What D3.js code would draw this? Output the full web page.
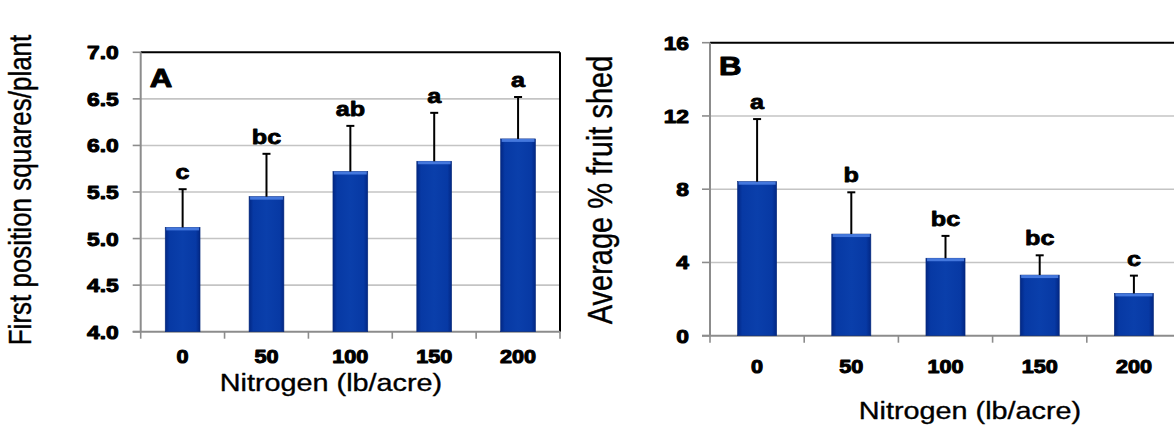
<!DOCTYPE html>
<html><head><meta charset="utf-8">
<script src="https://cdn.jsdelivr.net/npm/d3@7"></script>
<style>body{margin:0;background:#fff;overflow:hidden} text{font-family:Arial,"Liberation Sans",sans-serif;fill:#000}</style>
</head><body><svg id="c" width="1174" height="427"></svg>
<script>
const categories = ["0", "50", "100", "150", "200"];
const squaresMean = [5.12, 5.45, 5.72, 5.83, 6.07];
const squaresErr = [0.41, 0.46, 0.49, 0.52, 0.45];
const squaresLetters = ["c", "bc", "ab", "a", "a"];
const squaresTicks = [4.0, 4.5, 5.0, 5.5, 6.0, 6.5, 7.0];
const shedMean = [8.41, 5.55, 4.23, 3.31, 2.31];
const shedErr = [3.42, 2.28, 1.22, 1.08, 0.97];
const shedLetters = ["a", "b", "bc", "bc", "c"];
const shedTicks = [0, 4, 8, 12, 16];

const svg = d3.select("#c");
const defs = svg.append("defs");
const grad = defs.append("linearGradient").attr("id", "barg").attr("x1", "0").attr("x2", "1").attr("y1", "0").attr("y2", "0");
[["0%", "#022784"], ["12%", "#0739a4"], ["50%", "#0a3fab"], ["88%", "#0739a4"], ["100%", "#022784"]]
  .forEach(([o, c]) => grad.append("stop").attr("offset", o).attr("stop-color", c));

const SX = 1.2;
function txt(g, x, y, s, size, weight, anchor, rot, heavy) {
  const t = g.append("text")
    .attr("transform", `translate(${x},${y}) scale(${SX},1)` + (rot ? " rotate(-90)" : ""))
    .attr("text-anchor", anchor)
    .style("font-size", size + "px")
    .style("font-weight", weight)
    .text(s);
  if (heavy) t.attr("stroke", "#000").attr("stroke-width", heavy).attr("stroke-linejoin", "round");
  return t;
}

function panel(cfg) {
  const g = svg.append("g");
  const x = d3.scaleBand().domain(categories).range([cfg.x0, cfg.x1]).paddingInner(0.585).paddingOuter(0.2925);
  const y = d3.scaleLinear().domain(cfg.domain).range([cfg.yb, cfg.yt]);
  const step = x.step();
  g.selectAll(".grid").data(cfg.ticks.slice(1, -1)).join("line")
    .attr("x1", cfg.x0).attr("x2", cfg.x1).attr("y1", d => y(d)).attr("y2", d => y(d))
    .attr("stroke", "#c4c4c4").attr("stroke-width", 1.6);
  g.append("line").attr("x1", cfg.x0).attr("x2", Math.min(cfg.x1, 1174)).attr("y1", y(cfg.domain[1])).attr("y2", y(cfg.domain[1]))
    .attr("stroke", "#000").attr("stroke-width", 2);
  if (cfg.rightBorder) {
    g.append("line").attr("x1", cfg.x1).attr("x2", cfg.x1).attr("y1", y(cfg.domain[1])).attr("y2", cfg.yb)
      .attr("stroke", "#000").attr("stroke-width", 2);
  }
  g.append("line").attr("x1", cfg.x0).attr("x2", cfg.x0).attr("y1", cfg.yt).attr("y2", cfg.yb)
    .attr("stroke", "#8c8c8c").attr("stroke-width", 2);
  g.selectAll(".yt").data(cfg.ticks).join("line")
    .attr("x1", cfg.x0 - 8).attr("x2", cfg.x0).attr("y1", d => y(d)).attr("y2", d => y(d))
    .attr("stroke", "#8c8c8c").attr("stroke-width", 1.6);
  cfg.ticks.forEach(t => txt(g, cfg.x0 - cfg.ylabGap, y(t) + 7, cfg.fmt(t), 19, "bold", "end", false, 1.0));
  g.append("line").attr("x1", cfg.x0 - 8).attr("x2", Math.min(cfg.x1, 1174)).attr("y1", cfg.yb).attr("y2", cfg.yb)
    .attr("stroke", "#8c8c8c").attr("stroke-width", 2);
  g.selectAll(".xt").data(d3.range(categories.length + 1)).join("line")
    .attr("x1", i => cfg.x0 + i * step).attr("x2", i => cfg.x0 + i * step)
    .attr("y1", cfg.yb).attr("y2", cfg.yb + 7)
    .attr("stroke", "#8c8c8c").attr("stroke-width", 1.6);
  categories.forEach(c => txt(g, x(c) + x.bandwidth() / 2, cfg.xlabY, c, 18, "bold", "middle", false, 1.0));
  const data = categories.map((c, i) => ({c, v: cfg.mean[i], e: cfg.err[i], l: cfg.letters[i]}));
  g.selectAll(".bar").data(data).join("rect")
    .attr("x", d => x(d.c)).attr("width", x.bandwidth())
    .attr("y", d => y(d.v)).attr("height", d => cfg.yb - y(d.v))
    .attr("fill", "url(#barg)").attr("stroke", "#06287a").attr("stroke-width", 0.6);
  g.selectAll(".hl").data(data).join("rect")
    .attr("x", d => x(d.c) + 1).attr("width", x.bandwidth() - 2)
    .attr("y", d => y(d.v)).attr("height", 3)
    .attr("fill", "#4f82e6").attr("opacity", 0.85);
  g.selectAll(".eb").data(data).join("line")
    .attr("x1", d => x(d.c) + x.bandwidth() / 2).attr("x2", d => x(d.c) + x.bandwidth() / 2)
    .attr("y1", d => y(d.v)).attr("y2", d => y(d.v + d.e))
    .attr("stroke", "#000").attr("stroke-width", 2);
  g.selectAll(".cap").data(data).join("line")
    .attr("x1", d => x(d.c) + x.bandwidth() / 2 - 4).attr("x2", d => x(d.c) + x.bandwidth() / 2 + 4)
    .attr("y1", d => y(d.v + d.e)).attr("y2", d => y(d.v + d.e))
    .attr("stroke", "#000").attr("stroke-width", 2);
  data.forEach(d => txt(g, x(d.c) + x.bandwidth() / 2, y(d.v + d.e) - 10, d.l, 21, "bold", "middle", false, 0.8));
  txt(g, cfg.x0 + 9, cfg.panelY, cfg.panel, 26, "bold", "start", false, 1.0);
  txt(g, cfg.ytitleX, cfg.ytitleY, cfg.ytitle, cfg.ytitleSize, "normal", "middle", true, 0.35);
  txt(g, cfg.xtitleX, cfg.xtitleY, "Nitrogen (lb/acre)", 24, "normal", "middle", false, 0.35);
}

panel({
  x0: 140.7, x1: 560, yt: 52.3, yb: 331.7, domain: [4, 7], ticks: squaresTicks,
  fmt: d3.format(".1f"), ylabGap: 22, xlabY: 363,
  mean: squaresMean, err: squaresErr, letters: squaresLetters,
  rightBorder: true, panel: "A", panelY: 87,
  ytitle: "First position squares/plant", ytitleX: 31, ytitleY: 190, ytitleSize: 26,
  xtitleX: 331, xtitleY: 391
});
panel({
  x0: 710, x1: 1181, yt: 42.7, yb: 335.7, domain: [0, 16], ticks: shedTicks,
  fmt: d3.format("d"), ylabGap: 21, xlabY: 373,
  mean: shedMean, err: shedErr, letters: shedLetters,
  rightBorder: false, panel: "B", panelY: 75,
  ytitle: "Average % fruit shed", ytitleX: 612, ytitleY: 190, ytitleSize: 29,
  xtitleX: 970, xtitleY: 419
});
</script></body></html>
